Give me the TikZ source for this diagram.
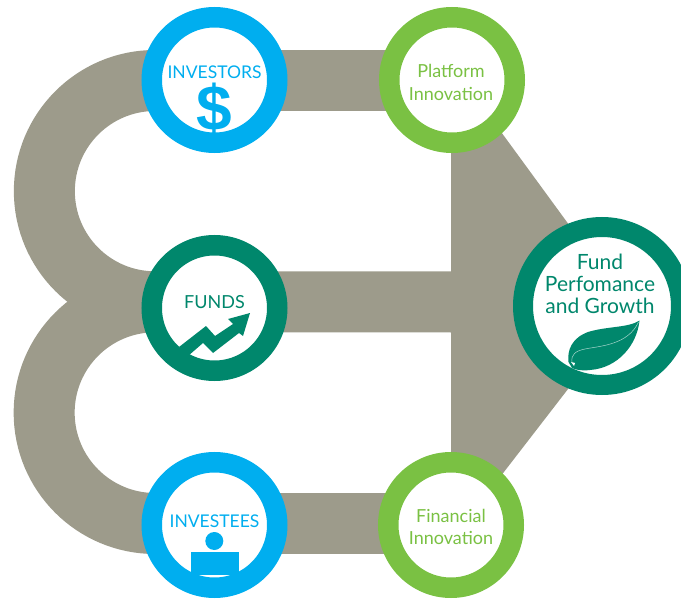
\documentclass[tikz,border=0pt]{standalone}
\usepackage{fontspec}
\setmainfont{Lato}
\newfontfamily\dollarfont{Liberation Sans}[BoldFont={Liberation Sans Bold}]
\definecolor{bandgray}{HTML}{9D9B8B}
\definecolor{skyc}{HTML}{00AEEF}
\definecolor{leafc}{HTML}{7AC143}
\definecolor{tealc}{HTML}{00876C}
\tikzset{
  band/.style={draw=bandgray,line width=61pt,line cap=butt},
  ring/.style={circle,fill=white,inner sep=0pt,outer sep=0pt,line width=20.5pt,minimum size=125.5pt},
  bigring/.style={circle,fill=white,inner sep=0pt,outer sep=0pt,line width=20pt,minimum size=158pt},
  label/.style={inner sep=0pt,align=center,font=\fontsize{18}{22.5}\selectfont},
}
\begin{document}
\begin{tikzpicture}[x=1pt,y=-1pt]
\useasboundingbox (0,0) rectangle (681,599);
\clip (0,0) rectangle (681,599);
% coordinates of the band
\coordinate (topleft) at (155,80.5);
\coordinate (midleft) at (155,301.8);
\coordinate (botleft) at (155,523.5);
\coordinate (trunk) at (451,302);
% gray bands
\fill[bandgray] (451,110) -- (496,125) -- (602,270) -- (602,345) -- (497,481) -- (451,495) -- cycle;
\draw[band] (topleft) arc[start angle=-90,end angle=-270,radius=110.65];
\draw[band] (midleft) arc[start angle=-90,end angle=-270,radius=110.85];
\draw[band] (topleft) -- (452,80.5);
\draw[band] (midleft) -- (trunk);
\draw[band] (botleft) -- (451,523.5);
% rings
\node[ring,draw=skyc] (investors) at (214.5,80) {};
\node[ring,draw=tealc] (funds) at (214.5,308) {};
\node[ring,draw=skyc] (investees) at (214.5,525) {};
\node[ring,draw=leafc] (platform) at (452,80) {};
\node[ring,draw=leafc] (financial) at (451,525) {};
\node[bigring,draw=tealc] (growth) at (602,306) {};
% texts
\node[label,text=skyc,font=\fontsize{17.5}{20}\selectfont] (tinvestors) at (214.5,72.5) {INVESTORS};
\node[inner sep=0pt,text=skyc,font=\dollarfont\bfseries\fontsize{64}{64}\selectfont] (tdollar) at (214.5,109.5) {\$};
\node[label,text=tealc,font=\fontsize{18}{20}\selectfont] (tfunds) at (214.5,302) {FUNDS};
\node[label,text=skyc,font=\fontsize{17.5}{20}\selectfont] (tinvestees) at (214.5,521) {INVESTEES};
\node[label,text=leafc] (tplatform) at (451,82.5) {Platform\\Innovation};
\node[label,text=leafc] (tfinancial) at (451,527) {Financial\\Innovation};
\node[label,text=tealc,font=\fontsize{21}{22}\selectfont] (tgrowth) at (600,284) {Fund\\Perfomance\\and Growth};
% funds arrow
\fill[tealc] (179,347) -- (206,326) -- (215,336) -- (233,324) -- (228,319) -- (250,313) -- (243,336) -- (239,333) -- (213,353) -- (203,343) -- (188,356) -- cycle;
% investee person
\fill[skyc] (214.3,541) circle[radius=9];
\fill[skyc] (191,552) rectangle (239,575);
% leaf
\fill[tealc] (639.5,320.5) .. controls (637,345) and (618,368) .. (590,370) .. controls (582,371) and (576,370) .. (572,368) -- (568.5,362) .. controls (567,350) and (572,338) .. (588,332) .. controls (608,326) and (628,328) .. (639.5,320.5) -- cycle;
\draw[white,opacity=.65,line width=.5pt] (638.5,322) .. controls (628,345) and (600,346) .. (585,349) .. controls (575,351) and (571,355) .. (572,362);
\fill[white] (571,362) -- (575,363) -- (574,366) -- cycle;
\end{tikzpicture}
\end{document}
